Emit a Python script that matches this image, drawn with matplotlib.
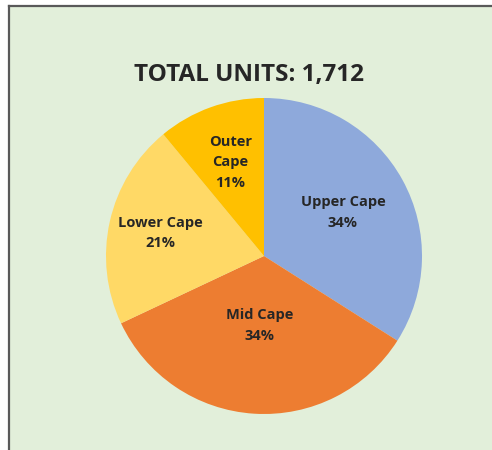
import matplotlib.pyplot as plt
from matplotlib.patches import Rectangle
import numpy as np

# Data
regions = ["Upper Cape", "Mid Cape", "Lower Cape", "Outer Cape"]
shares = [34, 34, 21, 11]
colors = ["#8EA9DB", "#ED7D31", "#FFD966", "#FFC000"]
label_text = ["Upper Cape\n34%", "Mid Cape\n34%", "Lower Cape\n21%", "Outer\nCape\n11%"]
label_radius = [0.57, 0.44, 0.67, 0.63]
total_units = "1,712"

plt.rcParams['font.family'] = ['Open Sans', 'DejaVu Sans']

fig = plt.figure(figsize=(4.92, 4.5), dpi=100)
fig.patch.set_facecolor("white")

# green chart area with left/top border
W, H = 492.0, 450.0
fig.patches.append(Rectangle((8.5 / W, 0), 1, 1 - 5.5 / H, transform=fig.transFigure,
                             facecolor="#E2EFDA", edgecolor="none", zorder=-5))
fig.add_artist(plt.Line2D([8.5 / W, 8.5 / W], [0, 1 - 5.5 / H], color="#595959", lw=1.6,
                          transform=fig.transFigure, zorder=-4))
fig.add_artist(plt.Line2D([8.5 / W, 1], [1 - 5.5 / H, 1 - 5.5 / H], color="#595959", lw=1.6,
                          transform=fig.transFigure, zorder=-4))

cx, cy, r = 264, 256, 158
ax = fig.add_axes([(cx - r) / W, (H - cy - r) / H, 2 * r / W, 2 * r / H])
ax.set_zorder(2)
ax.set_facecolor("none")
wedges, _ = ax.pie(shares, colors=colors, startangle=90, counterclock=False,
                   radius=1, wedgeprops=dict(linewidth=0))
ax.set_xlim(-1, 1)
ax.set_ylim(-1, 1)
ax.set_aspect("equal")
ax.axis("off")

for w, txt, rr in zip(wedges, label_text, label_radius):
    ang = np.deg2rad((w.theta1 + w.theta2) / 2)
    ax.text(rr * np.cos(ang), rr * np.sin(ang), txt, ha="center", va="center",
            fontsize=10.5, fontweight="bold", color="#262626", linespacing=1.6)

fig.text(249 / W, 1 - 75 / H, f"TOTAL UNITS: {total_units}", ha="center", va="center",
         fontsize=17.5, fontweight="bold", color="#262626")

fig.savefig("out.png", dpi=100)
